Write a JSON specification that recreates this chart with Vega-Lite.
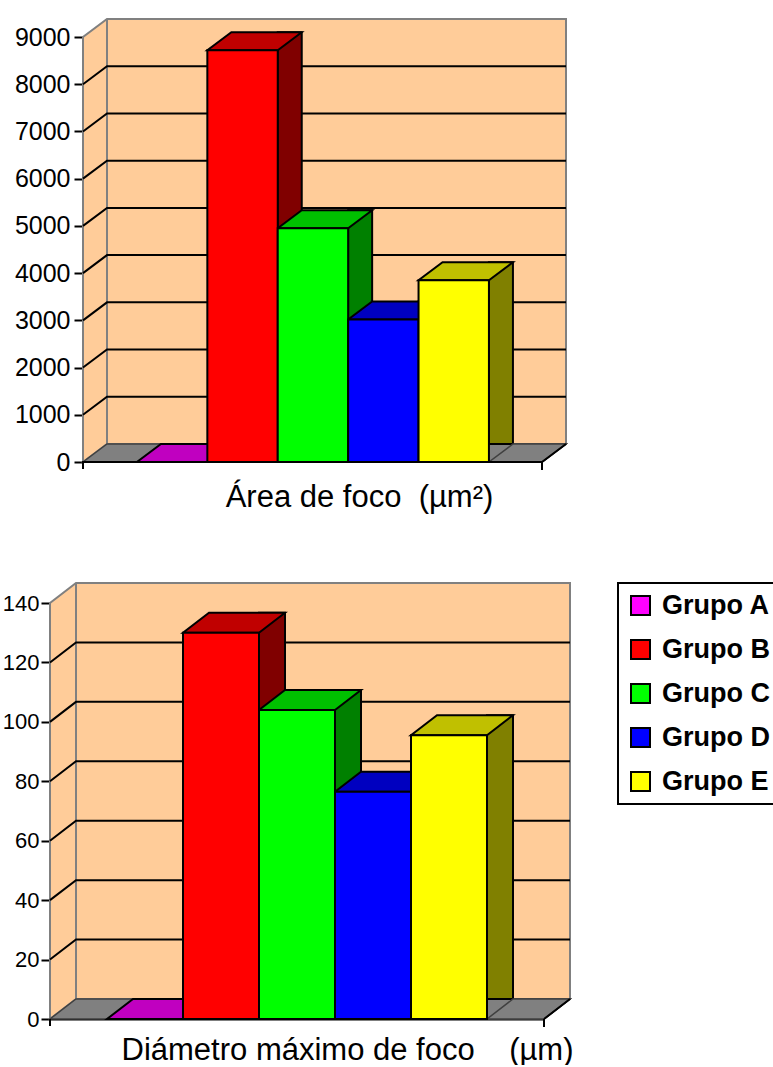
{
  "$schema": "https://vega.github.io/schema/vega-lite/v6.json",
  "padding": {"left": 2, "top": 15, "right": 0, "bottom": 0},
  "background": "white",
  "config": {
    "view": {"stroke": null},
    "font": "Liberation Sans",
    "legend": {"strokeWidth": 2},
    "axisX": {"labels": false, "ticks": false, "grid": false, "domainColor": "black", "domainWidth": 2, "titleFontSize": 31, "titleFontWeight": "normal", "titleColor": "black", "titleFont": "Liberation Sans", "titleAlign": "center", "titleBaseline": "alphabetic", "zindex": 1},
    "axisY": {"title": null, "format": "d", "grid": false, "domainColor": "black", "domainWidth": 2, "tickColor": "black", "tickWidth": 2, "tickSize": 9, "labelColor": "black", "labelFont": "Liberation Sans", "zindex": 1}
  },
  "datasets": {
    "main": [
      {"grupo": "Grupo A", "area": 0, "diametro": 0},
      {"grupo": "Grupo B", "area": 8720, "diametro": 130},
      {"grupo": "Grupo C", "area": 4950, "diametro": 104},
      {"grupo": "Grupo D", "area": 3020, "diametro": 76.5},
      {"grupo": "Grupo E", "area": 3850, "diametro": 95.5}
    ]
  },
  "columns": 1,
  "bounds": "full",
  "spacing": 67,
  "concat": [
    {
      "width": 492,
      "height": 425,
      "resolve": {"scale": {"fill": "independent"}},
      "layer": [
        {
          "data": {"values": [{"k": 1}]},
          "mark": {"type": "point", "shape": "M -213 0 L -213 -425 L -189 -443 L 270 -443 L 270 -18 L -189 -18 Z M -189 -443 L -189 -18", "size": 4, "filled": true, "fill": "#FFCC99", "stroke": "#808080", "strokeWidth": 2, "opacity": 1},
          "encoding": {"y": {"datum": 0, "type": "quantitative", "scale": {"domain": [0, 9000], "nice": false}, "axis": {"title": null, "values": [0, 1000, 2000, 3000, 4000, 5000, 6000, 7000, 8000, 9000], "labelFontSize": 25, "labelPadding": 4, "offset": -33}}}
        },
        {
          "data": {"values": [{"t": 1000}, {"t": 2000}, {"t": 3000}, {"t": 4000}, {"t": 5000}, {"t": 6000}, {"t": 7000}, {"t": 8000}]},
          "mark": {"type": "point", "shape": "M -213 0 L -189 -18 L 270 -18", "size": 4, "filled": false, "stroke": "black", "strokeWidth": 2, "opacity": 1},
          "encoding": {"y": {"field": "t", "type": "quantitative", "scale": {"domain": [0, 9000], "nice": false}, "axis": {"title": null, "values": [0, 1000, 2000, 3000, 4000, 5000, 6000, 7000, 8000, 9000], "labelFontSize": 25, "labelPadding": 4, "offset": -33}}}
        },
        {
          "data": {"values": [{"k": 1}]},
          "mark": {"type": "point", "shape": "M -213 0 L 246 0 L 270 -18 L -189 -18 Z", "size": 4, "filled": true, "fill": "#808080", "stroke": "#404040", "strokeWidth": 1.5, "opacity": 1},
          "encoding": {"y": {"datum": 0, "type": "quantitative", "scale": {"domain": [0, 9000], "nice": false}, "axis": {"title": null, "values": [0, 1000, 2000, 3000, 4000, 5000, 6000, 7000, 8000, 9000], "labelFontSize": 25, "labelPadding": 4, "offset": -33}}}
        },
        {
          "data": {"name": "main"},
          "mark": {"type": "bar", "width": 24, "xOffset": 47.2, "yOffset": -18, "stroke": "black", "strokeWidth": 2},
          "encoding": {
            "x": {"field": "grupo", "type": "nominal", "scale": {"domain": ["Grupo A", "Grupo B", "Grupo C", "Grupo D", "Grupo E"], "paddingInner": 0, "paddingOuter": 0.9943, "align": 0.621}, "axis": {"title": "Área de foco\u00a0\u00a0(µm²)", "titleX": 309, "titleY": 44, "domain": false}},
            "y": {"field": "area", "type": "quantitative", "scale": {"domain": [0, 9000], "nice": false}, "axis": {"title": null, "values": [0, 1000, 2000, 3000, 4000, 5000, 6000, 7000, 8000, 9000], "labelFontSize": 25, "labelPadding": 4, "offset": -33}},
            "fill": {"field": "grupo", "type": "nominal", "scale": {"domain": ["Grupo A", "Grupo B", "Grupo C", "Grupo D", "Grupo E"], "range": ["#800080", "#800000", "#008000", "#000080", "#808000"]}, "legend": null}
          }
        },
        {
          "data": {"values": [{"k": 1}]},
          "mark": {"type": "point", "shape": "M 193 0 L 246 0 L 270 -18 L 217 -18 Z", "size": 4, "filled": true, "fill": "#808080", "stroke": "#404040", "strokeWidth": 1.5, "opacity": 1},
          "encoding": {"y": {"datum": 0, "type": "quantitative", "scale": {"domain": [0, 9000], "nice": false}, "axis": {"title": null, "values": [0, 1000, 2000, 3000, 4000, 5000, 6000, 7000, 8000, 9000], "labelFontSize": 25, "labelPadding": 4, "offset": -33}}}
        },
        {
          "data": {"name": "main"},
          "mark": {"type": "point", "shape": "M -35.2 0 L 35.2 0 L 59.2 -18 L -11.2 -18 Z", "size": 4, "filled": true, "stroke": "black", "strokeWidth": 2, "opacity": 1},
          "encoding": {
            "x": {"field": "grupo", "type": "nominal", "scale": {"domain": ["Grupo A", "Grupo B", "Grupo C", "Grupo D", "Grupo E"], "paddingInner": 0, "paddingOuter": 0.9943, "align": 0.621}, "axis": {"title": "Área de foco\u00a0\u00a0(µm²)", "titleX": 309, "titleY": 44, "domain": false}},
            "y": {"field": "area", "type": "quantitative", "scale": {"domain": [0, 9000], "nice": false}, "axis": {"title": null, "values": [0, 1000, 2000, 3000, 4000, 5000, 6000, 7000, 8000, 9000], "labelFontSize": 25, "labelPadding": 4, "offset": -33}},
            "fill": {"field": "grupo", "type": "nominal", "scale": {"domain": ["Grupo A", "Grupo B", "Grupo C", "Grupo D", "Grupo E"], "range": ["#C000C0", "#C00000", "#00C000", "#0000C0", "#C0C000"]}, "legend": null}
          }
        },
        {
          "data": {"name": "main"},
          "mark": {"type": "bar", "stroke": "black", "strokeWidth": 2},
          "encoding": {
            "x": {"field": "grupo", "type": "nominal", "scale": {"domain": ["Grupo A", "Grupo B", "Grupo C", "Grupo D", "Grupo E"], "paddingInner": 0, "paddingOuter": 0.9943, "align": 0.621}, "axis": {"title": "Área de foco\u00a0\u00a0(µm²)", "titleX": 309, "titleY": 44, "domain": false}},
            "y": {"field": "area", "type": "quantitative", "scale": {"domain": [0, 9000], "nice": false}, "axis": {"title": null, "values": [0, 1000, 2000, 3000, 4000, 5000, 6000, 7000, 8000, 9000], "labelFontSize": 25, "labelPadding": 4, "offset": -33}},
            "color": {"field": "grupo", "type": "nominal", "scale": {"domain": ["Grupo A", "Grupo B", "Grupo C", "Grupo D", "Grupo E"], "range": ["#FF00FF", "#FF0000", "#00FF00", "#0000FF", "#FFFF00"]},
              "legend": {"title": null, "orient": "none", "legendX": 568, "legendY": 546, "symbolType": "square", "symbolSize": 361, "symbolStrokeColor": "black", "symbolStrokeWidth": 2, "symbolOpacity": 1, "labelFontSize": 27, "labelFontWeight": "bold", "labelColor": "black", "labelFont": "Liberation Sans", "labelOffset": 8, "rowPadding": 16, "padding": 9, "strokeColor": "black", "fillColor": "white"}}
          }
        },
        {
          "data": {"values": [{"k": 1}]},
          "mark": {"type": "point", "shape": "M -213 7 L -213 0 L 246 0 L 270 -18 M 246 0 L 246 8", "size": 4, "filled": false, "stroke": "black", "strokeWidth": 2, "opacity": 1},
          "encoding": {"y": {"datum": 0, "type": "quantitative", "scale": {"domain": [0, 9000], "nice": false}, "axis": {"title": null, "values": [0, 1000, 2000, 3000, 4000, 5000, 6000, 7000, 8000, 9000], "labelFontSize": 25, "labelPadding": 4, "offset": -33}}}
        }
      ]
    },
    {
      "width": 494,
      "height": 416,
      "resolve": {"scale": {"fill": "independent"}},
      "layer": [
        {
          "data": {"values": [{"k": 1}]},
          "mark": {"type": "point", "shape": "M -247 0 L -247 -416 L -221 -436 L 273 -436 L 273 -20 L -221 -20 Z M -221 -436 L -221 -20", "size": 4, "filled": true, "fill": "#FFCC99", "stroke": "#808080", "strokeWidth": 2, "opacity": 1},
          "encoding": {"y": {"datum": 0, "type": "quantitative", "scale": {"domain": [0, 140], "nice": false}, "axis": {"title": null, "values": [0, 20, 40, 60, 80, 100, 120, 140], "labelFontSize": 22, "labelPadding": 2, "minExtent": 48, "maxExtent": 48}}}
        },
        {
          "data": {"values": [{"t": 20}, {"t": 40}, {"t": 60}, {"t": 80}, {"t": 100}, {"t": 120}]},
          "mark": {"type": "point", "shape": "M -247 0 L -221 -20 L 273 -20", "size": 4, "filled": false, "stroke": "black", "strokeWidth": 2, "opacity": 1},
          "encoding": {"y": {"field": "t", "type": "quantitative", "scale": {"domain": [0, 140], "nice": false}, "axis": {"title": null, "values": [0, 20, 40, 60, 80, 100, 120, 140], "labelFontSize": 22, "labelPadding": 2, "minExtent": 48, "maxExtent": 48}}}
        },
        {
          "data": {"values": [{"k": 1}]},
          "mark": {"type": "point", "shape": "M -247 0 L 247 0 L 273 -20 L -221 -20 Z", "size": 4, "filled": true, "fill": "#808080", "stroke": "#404040", "strokeWidth": 1.5, "opacity": 1},
          "encoding": {"y": {"datum": 0, "type": "quantitative", "scale": {"domain": [0, 140], "nice": false}, "axis": {"title": null, "values": [0, 20, 40, 60, 80, 100, 120, 140], "labelFontSize": 22, "labelPadding": 2, "minExtent": 48, "maxExtent": 48}}}
        },
        {
          "data": {"name": "main"},
          "mark": {"type": "bar", "width": 26, "xOffset": 51, "yOffset": -20, "stroke": "black", "strokeWidth": 2},
          "encoding": {
            "x": {"field": "grupo", "type": "nominal", "scale": {"domain": ["Grupo A", "Grupo B", "Grupo C", "Grupo D", "Grupo E"], "paddingInner": 0, "paddingOuter": 0.75}, "axis": {"title": "Diámetro máximo de foco\u00a0\u00a0\u00a0\u00a0(µm)", "titleX": 297, "titleY": 40}},
            "y": {"field": "diametro", "type": "quantitative", "scale": {"domain": [0, 140], "nice": false}, "axis": {"title": null, "values": [0, 20, 40, 60, 80, 100, 120, 140], "labelFontSize": 22, "labelPadding": 2, "minExtent": 48, "maxExtent": 48}},
            "fill": {"field": "grupo", "type": "nominal", "scale": {"domain": ["Grupo A", "Grupo B", "Grupo C", "Grupo D", "Grupo E"], "range": ["#800080", "#800000", "#008000", "#000080", "#808000"]}, "legend": null}
          }
        },
        {
          "data": {"values": [{"k": 1}]},
          "mark": {"type": "point", "shape": "M 190 0 L 247 0 L 273 -20 L 216 -20 Z", "size": 4, "filled": true, "fill": "#808080", "stroke": "#404040", "strokeWidth": 1.5, "opacity": 1},
          "encoding": {"y": {"datum": 0, "type": "quantitative", "scale": {"domain": [0, 140], "nice": false}, "axis": {"title": null, "values": [0, 20, 40, 60, 80, 100, 120, 140], "labelFontSize": 22, "labelPadding": 2, "minExtent": 48, "maxExtent": 48}}}
        },
        {
          "data": {"name": "main"},
          "mark": {"type": "point", "shape": "M -38 0 L 38 0 L 64 -20 L -12 -20 Z", "size": 4, "filled": true, "stroke": "black", "strokeWidth": 2, "opacity": 1},
          "encoding": {
            "x": {"field": "grupo", "type": "nominal", "scale": {"domain": ["Grupo A", "Grupo B", "Grupo C", "Grupo D", "Grupo E"], "paddingInner": 0, "paddingOuter": 0.75}, "axis": {"title": "Diámetro máximo de foco\u00a0\u00a0\u00a0\u00a0(µm)", "titleX": 297, "titleY": 40}},
            "y": {"field": "diametro", "type": "quantitative", "scale": {"domain": [0, 140], "nice": false}, "axis": {"title": null, "values": [0, 20, 40, 60, 80, 100, 120, 140], "labelFontSize": 22, "labelPadding": 2, "minExtent": 48, "maxExtent": 48}},
            "fill": {"field": "grupo", "type": "nominal", "scale": {"domain": ["Grupo A", "Grupo B", "Grupo C", "Grupo D", "Grupo E"], "range": ["#C000C0", "#C00000", "#00C000", "#0000C0", "#C0C000"]}, "legend": null}
          }
        },
        {
          "data": {"name": "main"},
          "mark": {"type": "bar", "stroke": "black", "strokeWidth": 2},
          "encoding": {
            "x": {"field": "grupo", "type": "nominal", "scale": {"domain": ["Grupo A", "Grupo B", "Grupo C", "Grupo D", "Grupo E"], "paddingInner": 0, "paddingOuter": 0.75}, "axis": {"title": "Diámetro máximo de foco\u00a0\u00a0\u00a0\u00a0(µm)", "titleX": 297, "titleY": 40}},
            "y": {"field": "diametro", "type": "quantitative", "scale": {"domain": [0, 140], "nice": false}, "axis": {"title": null, "values": [0, 20, 40, 60, 80, 100, 120, 140], "labelFontSize": 22, "labelPadding": 2, "minExtent": 48, "maxExtent": 48}},
            "color": {"field": "grupo", "type": "nominal", "scale": {"domain": ["Grupo A", "Grupo B", "Grupo C", "Grupo D", "Grupo E"], "range": ["#FF00FF", "#FF0000", "#00FF00", "#0000FF", "#FFFF00"]},
              "legend": {"title": null, "orient": "none", "legendX": 568, "legendY": 546, "symbolType": "square", "symbolSize": 361, "symbolStrokeColor": "black", "symbolStrokeWidth": 2, "symbolOpacity": 1, "labelFontSize": 27, "labelFontWeight": "bold", "labelColor": "black", "labelFont": "Liberation Sans", "labelOffset": 8, "rowPadding": 16, "padding": 9, "strokeColor": "black", "fillColor": "white"}}
          }
        },
        {
          "data": {"values": [{"k": 1}]},
          "mark": {"type": "point", "shape": "M -247 7 L -247 0 M 247 0 L 273 -20 M 247 0 L 247 8", "size": 4, "filled": false, "stroke": "black", "strokeWidth": 2, "opacity": 1},
          "encoding": {"y": {"datum": 0, "type": "quantitative", "scale": {"domain": [0, 140], "nice": false}, "axis": {"title": null, "values": [0, 20, 40, 60, 80, 100, 120, 140], "labelFontSize": 22, "labelPadding": 2, "minExtent": 48, "maxExtent": 48}}}
        }
      ]
    }
  ]
}
